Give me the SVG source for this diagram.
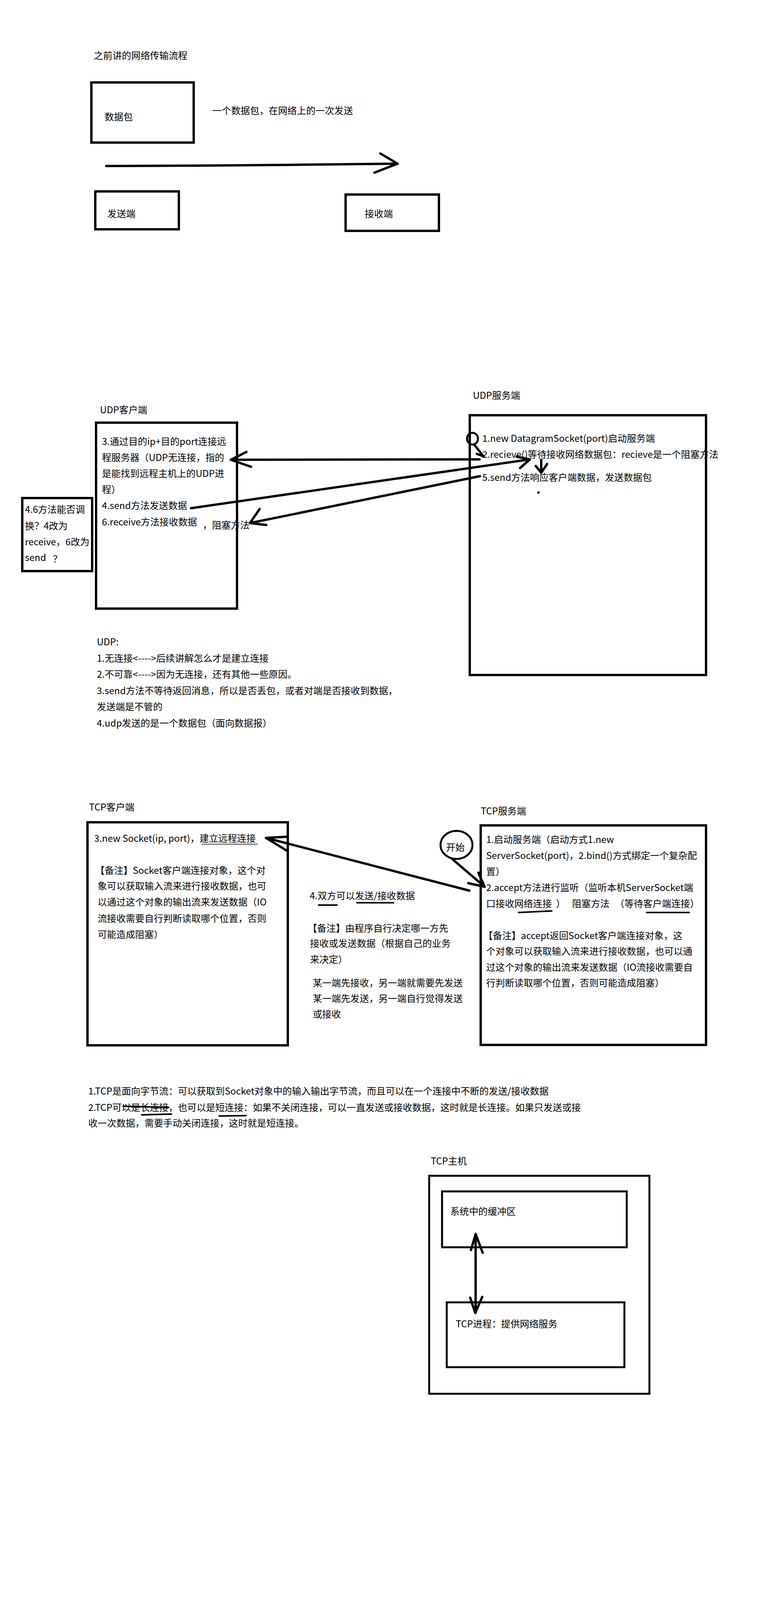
<svg xmlns="http://www.w3.org/2000/svg" width="2000" height="5000" viewBox="0 0 2000 5000">
<style>
.bg{fill:#fff}
.box{fill:none;stroke:#000;stroke-width:6}
.box5{fill:none;stroke:#000;stroke-width:5}
.t{font-family:"Noto Sans CJK SC","Microsoft YaHei",sans-serif;font-size:24px;fill:#000}
.ln{fill:none;stroke:#000;stroke-width:6;stroke-linecap:round;stroke-linejoin:round}
.ul{fill:none;stroke:#000;stroke-width:4;stroke-linecap:round}
.thin{fill:none;stroke:#000;stroke-width:1.5}
</style>
<rect class="bg" x="0" y="0" width="2000" height="5000"/>

<!-- Section 1 -->
<g id="title1"><text class="t" x="240" y="151">之前讲的网络传输流程</text></g>
<g id="packet">
<rect class="box" x="234" y="211" width="262" height="154"/>
<text class="t" x="268" y="308">数据包</text>
</g>
<g id="packet-note"><text class="t" x="544" y="292">一个数据包，在网络上的一次发送</text></g>
<g id="sender">
<rect class="box" x="244" y="490" width="214" height="97"/>
<text class="t" x="275" y="556">发送端</text>
</g>
<g id="receiver">
<rect class="box" x="885" y="498" width="239" height="93"/>
<text class="t" x="934" y="556">接收端</text>
</g>

<!-- UDP -->
<g id="udp-client">
<text class="t" x="256" y="1058">UDP客户端</text>
<rect class="box" x="246" y="1082" width="361" height="476"/>
<text class="t" x="261" y="1139">3.通过目的ip+目的port连接远</text>
<text class="t" x="261" y="1180">程服务器（UDP无连接，指的</text>
<text class="t" x="261" y="1221">是能找到远程主机上的UDP进</text>
<text class="t" x="261" y="1262">程）</text>
<text class="t" x="261" y="1303">4.send方法发送数据</text>
<text class="t" x="261" y="1345">6.receive方法接收数据</text>
<text class="t" x="519" y="1353">，阻塞方法</text>
</g>
<g id="udp-question">
<rect class="box" x="57" y="1275" width="179" height="187"/>
<text class="t" x="64" y="1313">4.6方法能否调</text>
<text class="t" x="64" y="1355">换？4改为</text>
<text class="t" x="64" y="1396">receive，6改为</text>
<text class="t" x="64" y="1436">send</text>
<text class="t" x="135" y="1440">？</text>
</g>
<g id="udp-server">
<text class="t" x="1211" y="1021">UDP服务端</text>
<rect class="box" x="1203" y="1063" width="605" height="665"/>
<ellipse cx="1210" cy="1123" rx="14" ry="15" fill="none" stroke="#000" stroke-width="5"/>
<text class="t" x="1235" y="1131">1.new DatagramSocket(port)启动服务端</text>
<text class="t" x="1235" y="1172">2.recieve()等待接收网络数据包：recieve是一个阻塞方法</text>
<text class="t" x="1235" y="1231">5.send方法响应客户端数据，发送数据包</text>
<circle cx="1379" cy="1261" r="3" fill="#000"/>
</g>
<g id="udp-notes">
<text class="t" x="248" y="1652">UDP:</text>
<text class="t" x="248" y="1694">1.无连接&lt;----&gt;后续讲解怎么才是建立连接</text>
<text class="t" x="248" y="1735">2.不可靠&lt;----&gt;因为无连接，还有其他一些原因。</text>
<text class="t" x="248" y="1777">3.send方法不等待返回消息，所以是否丢包，或者对端是否接收到数据，</text>
<text class="t" x="248" y="1818">发送端是不管的</text>
<text class="t" x="248" y="1860">4.udp发送的是一个数据包（面向数据报）</text>
</g>

<!-- TCP -->
<g id="tcp-client">
<text class="t" x="228" y="2075">TCP客户端</text>
<rect class="box" x="224" y="2105" width="513" height="571"/>
<text class="t" x="241" y="2155">3.new Socket(ip, port)，建立远程连接</text>
<text class="t" x="244" y="2237">【备注】Socket客户端连接对象，这个对</text>
<text class="t" x="250" y="2277">象可以获取输入流来进行接收数据，也可</text>
<text class="t" x="250" y="2318">以通过这个对象的输出流来发送数据（IO</text>
<text class="t" x="250" y="2360">流接收需要自行判断读取哪个位置，否则</text>
<text class="t" x="250" y="2401">可能造成阻塞）</text>
</g>
<g id="tcp-middle">
<text class="t" x="793" y="2302">4.双方可以发送/接收数据</text>
<text class="t" x="788" y="2385">【备注】由程序自行决定哪一方先</text>
<text class="t" x="794" y="2424">接收或发送数据（根据自己的业务</text>
<text class="t" x="794" y="2465">来决定）</text>
<text class="t" x="801" y="2525">某一端先接收，另一端就需要先发送</text>
<text class="t" x="801" y="2565">某一端先发送，另一端自行觉得发送</text>
<text class="t" x="801" y="2605">或接收</text>
</g>
<g id="tcp-start">
<ellipse cx="1169" cy="2163" rx="41" ry="36" fill="none" stroke="#000" stroke-width="5"/>
<text class="t" x="1142" y="2178">开始</text>
</g>
<g id="tcp-server">
<text class="t" x="1231" y="2085">TCP服务端</text>
<rect class="box" x="1231" y="2113" width="577" height="562"/>
<text class="t" x="1245" y="2158">1.启动服务端（启动方式1.new</text>
<text class="t" x="1245" y="2199">ServerSocket(port)，2.bind()方式绑定一个复杂配</text>
<text class="t" x="1245" y="2240">置）</text>
<text class="t" x="1245" y="2281">2.accept方法进行监听（监听本机ServerSocket端</text>
<text class="t" x="1245" y="2322">口接收网络连接</text>
<text class="t" x="1424" y="2322">）</text>
<text class="t" x="1465" y="2322">阻塞方法</text>
<text class="t" x="1575" y="2322">（等待客户端连接）</text>
<text class="t" x="1238" y="2404">【备注】accept返回Socket客户端连接对象，这</text>
<text class="t" x="1245" y="2444">个对象可以获取输入流来进行接收数据，也可以通</text>
<text class="t" x="1245" y="2485">过这个对象的输出流来发送数据（IO流接收需要自</text>
<text class="t" x="1245" y="2525">行判断读取哪个位置，否则可能造成阻塞）</text>
</g>
<g id="tcp-notes">
<text class="t" x="226" y="2802">1.TCP是面向字节流：可以获取到Socket对象中的输入输出字节流，而且可以在一个连接中不断的发送/接收数据</text>
<text class="t" x="226" y="2844">2.TCP可以是长连接，也可以是短连接：如果不关闭连接，可以一直发送或接收数据，这时就是长连接。如果只发送或接</text>
<text class="t" x="226" y="2884">收一次数据，需要手动关闭连接，这时就是短连接。</text>
</g>

<!-- TCP host -->
<g id="tcp-host">
<text class="t" x="1103" y="2981">TCP主机</text>
<rect class="box5" x="1099" y="3010" width="564" height="558"/>
</g>
<g id="buffer">
<rect class="box5" x="1132" y="3050" width="473" height="143"/>
<text class="t" x="1153" y="3110">系统中的缓冲区</text>
</g>
<g id="tcp-process">
<rect class="box5" x="1144" y="3334" width="455" height="166"/>
<text class="t" x="1167" y="3398">TCP进程：提供网络服务</text>
</g>

<g id="connectors">
<polyline class="ln" points="272,425 500,424 750,422 1018,419"/>
<polyline class="ln" points="974,393 1018,419 959,442"/>

<line class="ln" x1="1228" y1="1176" x2="591" y2="1177"/>
<polyline class="ln" points="631,1157 591,1177 643,1195"/>

<line class="ln" x1="489" y1="1301" x2="1357" y2="1176"/>
<polyline class="ln" points="1323,1169 1357,1176 1332,1198"/>

<line class="ln" x1="1229" y1="1219" x2="640" y2="1339"/>
<polyline class="ln" points="665,1303 640,1339 682,1344"/>

<line class="ln" x1="1215" y1="1139" x2="1238" y2="1168"/>
<line class="ln" x1="1221" y1="1162" x2="1238" y2="1168"/>

<line class="ln" x1="1386" y1="1177" x2="1386" y2="1210"/>
<polyline class="ln" points="1372,1193 1386,1210 1401,1188"/>

<line class="ln" x1="1202" y1="2280" x2="681" y2="2145"/>
<polyline class="ln" points="735,2142 681,2145 735,2178"/>

<line class="ln" x1="1158" y1="2199" x2="1241" y2="2270"/>
<polyline class="ln" points="1225,2234 1241,2270 1199,2261"/>

<line class="thin" x1="516" y1="2161" x2="660" y2="2161"/>
<line class="ul" x1="1328" y1="2336" x2="1413" y2="2332"/>
<line class="ul" x1="1656" y1="2336" x2="1765" y2="2336"/>
<line class="ul" x1="816" y1="2317" x2="863" y2="2317"/>
<line class="ul" x1="914" y1="2311" x2="1008" y2="2311"/>
<line class="ul" x1="316" y1="2832" x2="432" y2="2835"/>
<line class="ul" x1="363" y1="2854" x2="439" y2="2852"/>
<line class="ul" x1="561" y1="2857" x2="630" y2="2856"/>

<line class="ln" x1="1218" y1="3159" x2="1218" y2="3361"/>
<polyline class="ln" points="1206,3200 1218,3159 1236,3207"/>
<polyline class="ln" points="1204,3322 1217,3361 1235,3320"/>
</g>
</svg>
